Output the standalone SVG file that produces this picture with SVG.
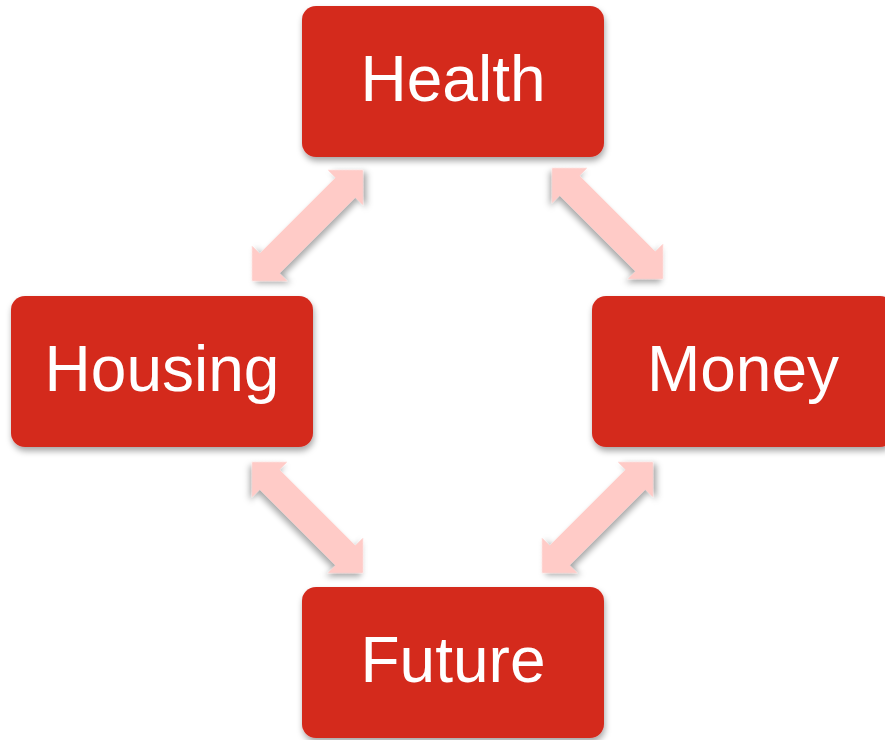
<svg xmlns="http://www.w3.org/2000/svg" width="885" height="740" viewBox="0 0 885 740">
<defs>
<filter id="sh" x="-10%" y="-10%" width="130%" height="140%">
<feDropShadow dx="1" dy="4" stdDeviation="3" flood-color="#000" flood-opacity="0.35"/>
</filter>
<polygon id="dbl" points="0,0 25,-25 25,-14 132,-14 132,-25 157,0 132,25 132,14 25,14 25,25"/>
</defs>
<style>
.box{fill:#D42A1F;filter:url(#sh)}
.lbl{font-family:"Liberation Sans",Arial,sans-serif;font-size:64px;fill:#fff;text-anchor:middle}
.arr{fill:#FFCBC7;filter:url(#sh)}
</style>
<rect width="885" height="740" fill="#fff"/>
<g id="connectors">
<use href="#dbl" class="arr" transform="translate(252,281) rotate(-45)"/>
<use href="#dbl" class="arr" transform="translate(552,168) rotate(45)"/>
<use href="#dbl" class="arr" transform="translate(252,462) rotate(45)"/>
<use href="#dbl" class="arr" transform="translate(542,573) rotate(-45)"/>
</g>
<g id="health"><rect class="box" x="302" y="6" width="302" height="151" rx="14"/><text class="lbl" x="453" y="101">Health</text></g>
<g id="housing"><rect class="box" x="11" y="296" width="302" height="151" rx="14"/><text class="lbl" x="162" y="391">Housing</text></g>
<g id="money"><rect class="box" x="592" y="296" width="302" height="151" rx="14"/><text class="lbl" x="743" y="391">Money</text></g>
<g id="future"><rect class="box" x="302" y="587" width="302" height="151" rx="14"/><text class="lbl" x="453" y="682">Future</text></g>
</svg>
